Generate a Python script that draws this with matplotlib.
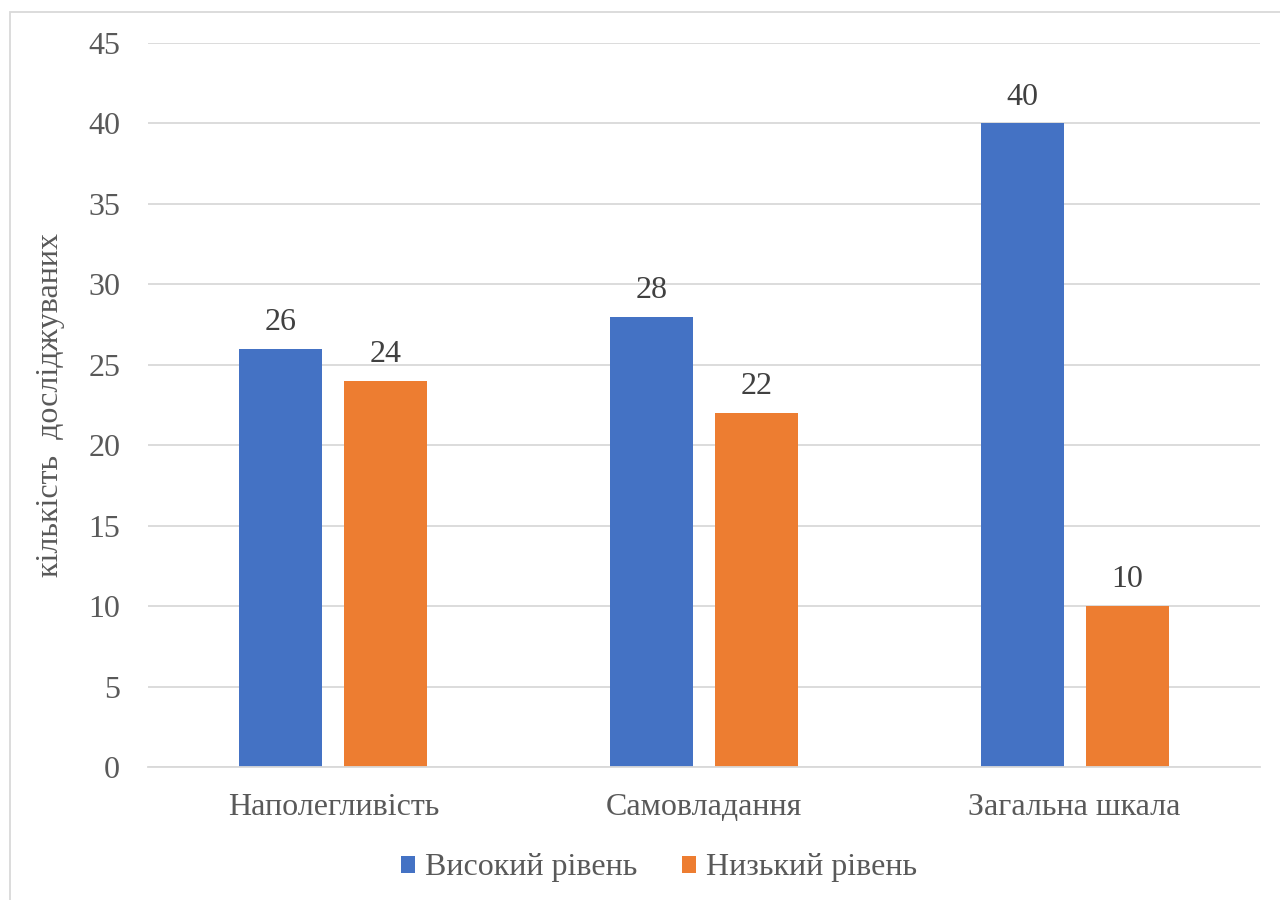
import matplotlib
matplotlib.use("Agg")
import matplotlib.pyplot as plt
from matplotlib.patches import Rectangle
import numpy as np

categories = ["Наполегливість", "Самовладання", "Загальна шкала"]
series_names = ["Високий рівень", "Низький рівень"]
high = [26, 28, 40]
low = [24, 22, 10]
yticks = [0, 5, 10, 15, 20, 25, 30, 35, 40, 45]

plt.rcParams['font.family'] = ['Liberation Serif', 'DejaVu Serif']
TXT = '#595959'
BLUE = '#4472C4'
ORANGE = '#ED7D31'
GRID = '#D9D9D9'
FS = 23

W, H = 1280, 900
fig = plt.figure(figsize=(12.8, 9), dpi=100)
ax = fig.add_axes([148 / W, 1 - 767 / H, (1260 - 148) / W, (767 - 43) / H])

x = np.arange(len(categories))
bw = 0.224
off = 0.142
b1 = ax.bar(x - off, high, bw, color=BLUE, label=series_names[0], zorder=3)
b2 = ax.bar(x + off, low, bw, color=ORANGE, label=series_names[1], zorder=3)

for bars in (b1, b2):
    for r in bars:
        ax.annotate(f"{int(r.get_height())}", (r.get_x() + r.get_width() / 2, r.get_height()),
                    xytext=(0, 8.5), textcoords='offset points', ha='center', va='bottom',
                    fontsize=FS, color='#404040')

ax.set_xlim(-0.5, 2.5)
ax.set_ylim(0, 45)
ax.set_yticks(yticks)
ax.set_yticklabels([str(t) for t in yticks])
ax.set_xticks(x)
ax.set_xticklabels(categories)
ax.tick_params(axis='both', length=0, labelsize=FS, labelcolor=TXT)
ax.tick_params(axis='y', pad=20)
ax.tick_params(axis='x', pad=19)
ax.yaxis.grid(True, color=GRID, linewidth=1.3, zorder=0)
for s in ['top', 'right', 'left']:
    ax.spines[s].set_visible(False)
ax.spines['bottom'].set_color(GRID)
ax.spines['bottom'].set_linewidth(1.3)
ax.spines['bottom'].set_zorder(4)

fig.text(51 / W, 1 - 405 / H, "кількість  досліджуваних", rotation=90, ha='center', va='center',
         fontsize=FS, color=TXT)

leg = fig.legend(handles=[b1, b2], labels=series_names, loc='center', bbox_to_anchor=(659 / W, 1 - 868 / H),
                 ncol=2, frameon=False, fontsize=FS, handlelength=0.44, handleheight=0.44,
                 handletextpad=0.31, columnspacing=1.38, labelcolor=TXT)

fig.patches.append(Rectangle((10 / W, -0.05), 1.1, 1 - 12 / H + 0.05, transform=fig.transFigure,
                             fill=False, edgecolor='#D9D9D9', linewidth=1.3))

fig.savefig("out.png", dpi=100, facecolor='white')
